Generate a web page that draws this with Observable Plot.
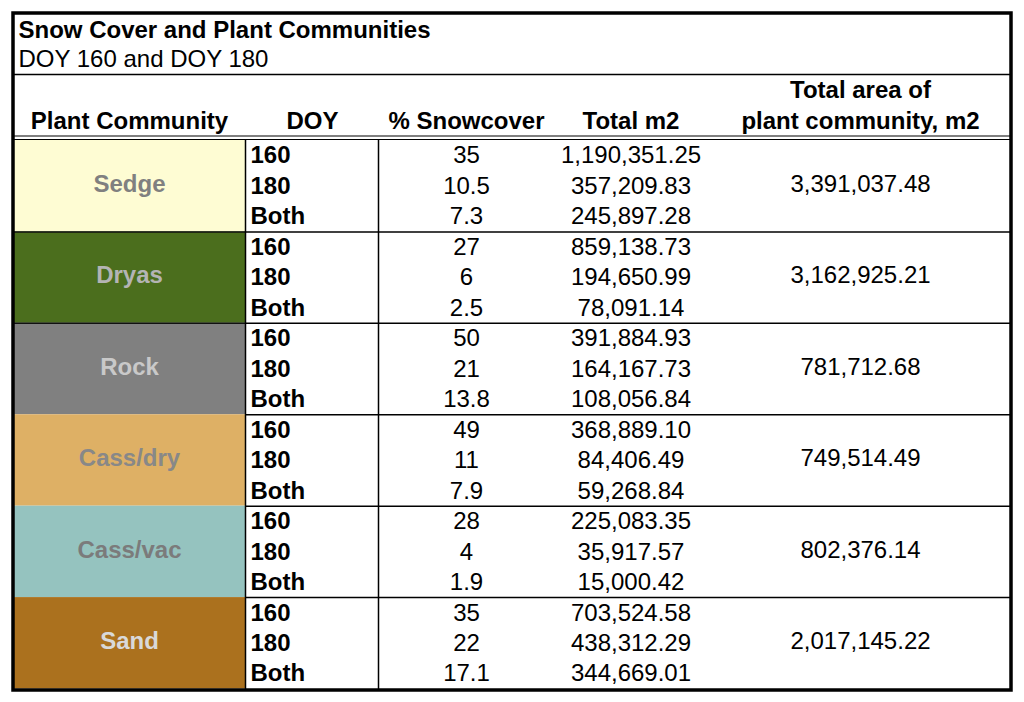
<!DOCTYPE html>
<html>
<head>
<meta charset="utf-8">
<script src="https://cdn.jsdelivr.net/npm/d3@7"></script>
<script src="https://cdn.jsdelivr.net/npm/@observablehq/plot@0.6"></script>
<style>
  html, body { margin: 0; padding: 0; background: #fff; }
  #chart svg { display: block; }
</style>
</head>
<body>
<div id="chart"></div>
<script>
// ---- Data ----
const title = "Snow Cover and Plant Communities";
const subtitle = "DOY 160 and DOY 180";
const communities = ["Sedge", "Dryas", "Rock", "Cass/dry", "Cass/vac", "Sand"];
const doyLabels = ["160", "180", "Both"];
const snowcover = [
  [35, 10.5, 7.3],
  [27, 6, 2.5],
  [50, 21, 13.8],
  [49, 11, 7.9],
  [28, 4, 1.9],
  [35, 22, 17.1]
];
const totalM2 = [
  [1190351.25, 357209.83, 245897.28],
  [859138.73, 194650.99, 78091.14],
  [391884.93, 164167.73, 108056.84],
  [368889.10, 84406.49, 59268.84],
  [225083.35, 35917.57, 15000.42],
  [703524.58, 438312.29, 344669.01]
];
const totalArea = [3391037.48, 3162925.21, 781712.68, 749514.49, 802376.14, 2017145.22];
const headers = ["Plant Community", "DOY", "% Snowcover", "Total m2", "plant community, m2"];
const headerTop = "Total area of";

// ---- Styles / layout ----
const fillColors = ["#FEFCD3", "#4B6E1D", "#808080", "#DEB065", "#95C3BF", "#AB711E"];
const labelColors = ["#808080", "#B4B4B4", "#C9C9C9", "#888888", "#7B7B7B", "#D9D9D9"];
const W = 1024, H = 702;
const L = 13, R = 1011, T = 13, B = 690;
const bodyTop = 140, bodyBottom = 688.5;
const rowH = (bodyBottom - bodyTop) / 18;
const colEdges = [L, 245, 378];
const colCenters = [129, 312, 466, 630.5, 860];
const doyX = 250;
const groupLabelShift = -2;
const fmt = d3.format(",.2f");

const groups = communities.map((c, i) => ({
  name: c, fill: fillColors[i], label: labelColors[i],
  y1: bodyTop + i * 3 * rowH, y2: bodyTop + (i + 1) * 3 * rowH,
  area: fmt(totalArea[i])
}));
const rows = [];
communities.forEach((c, i) => doyLabels.forEach((d, j) => rows.push({
  doy: d, snow: String(snowcover[i][j]), m2: fmt(totalM2[i][j]),
  y: bodyTop + (i * 3 + j + 0.5) * rowH
})));
const headerRows = headers.map((h, k) => ({text: h, x: colCenters[k], y: 121}));
headerRows.push({text: headerTop, x: colCenters[4], y: 90});

const font = "'Liberation Sans', Arial, Helvetica, sans-serif";
const midY = d => (d.y1 + d.y2) / 2 + groupLabelShift;

const chart = Plot.plot({
  width: W, height: H,
  margin: 0,
  x: {type: "linear", domain: [0, W], range: [0, W], axis: null},
  y: {type: "linear", domain: [0, H], range: [0, H], axis: null},
  style: {fontFamily: font, background: "#fff"},
  marks: [
    // community colour cells
    Plot.rect(groups, {x1: L, x2: colEdges[1], y1: "y1", y2: "y2", fill: "fill"}),
    // group separators
    Plot.ruleY(groups.slice(1), {y: "y1", x1: colEdges[1], x2: R, stroke: "#000", strokeWidth: 1.5}),
    Plot.ruleY(groups.slice(1, 3), {y: "y1", x1: L, x2: colEdges[1], stroke: "#111", strokeWidth: 1.5}),
    // vertical column lines
    Plot.ruleX(colEdges.slice(1), {x: d => d, y1: bodyTop, y2: B, stroke: "#000", strokeWidth: 1.5}),
    // line under subtitle, double line under header
    Plot.ruleY([74], {y: d => d, x1: L, x2: R, stroke: "#000", strokeWidth: 1.3}),
    Plot.ruleY([135.5, 139], {y: d => d, x1: L, x2: R, stroke: "#000", strokeWidth: 1.2}),
    // outer border
    Plot.rect([0], {x1: L, x2: R, y1: T, y2: B, fill: "none", stroke: "#000", strokeWidth: 3.5}),
    // title + subtitle
    Plot.text([title], {text: d => d, x: 18, y: 30, textAnchor: "start", fontSize: 24, fontWeight: "bold", fill: "#000"}),
    Plot.text([subtitle], {text: d => d, x: 18, y: 59, textAnchor: "start", fontSize: 24, fill: "#000"}),
    // headers
    Plot.text(headerRows, {text: "text", x: "x", y: "y", fontSize: 24, fontWeight: "bold", fill: "#000"}),
    // community labels
    Plot.text(groups, {text: "name", x: colCenters[0], y: midY, fontSize: 24, fontWeight: "bold", fill: "label"}),
    // DOY labels
    Plot.text(rows, {text: "doy", x: doyX, y: "y", textAnchor: "start", fontSize: 24, fontWeight: "bold", fill: "#000"}),
    // values
    Plot.text(rows, {text: "snow", x: colCenters[2], y: "y", fontSize: 24, fill: "#000"}),
    Plot.text(rows, {text: "m2", x: colCenters[3], y: "y", fontSize: 24, fill: "#000"}),
    Plot.text(groups, {text: "area", x: colCenters[4], y: midY, fontSize: 24, fill: "#000"})
  ]
});
document.getElementById("chart").append(chart);
</script>
</body>
</html>
